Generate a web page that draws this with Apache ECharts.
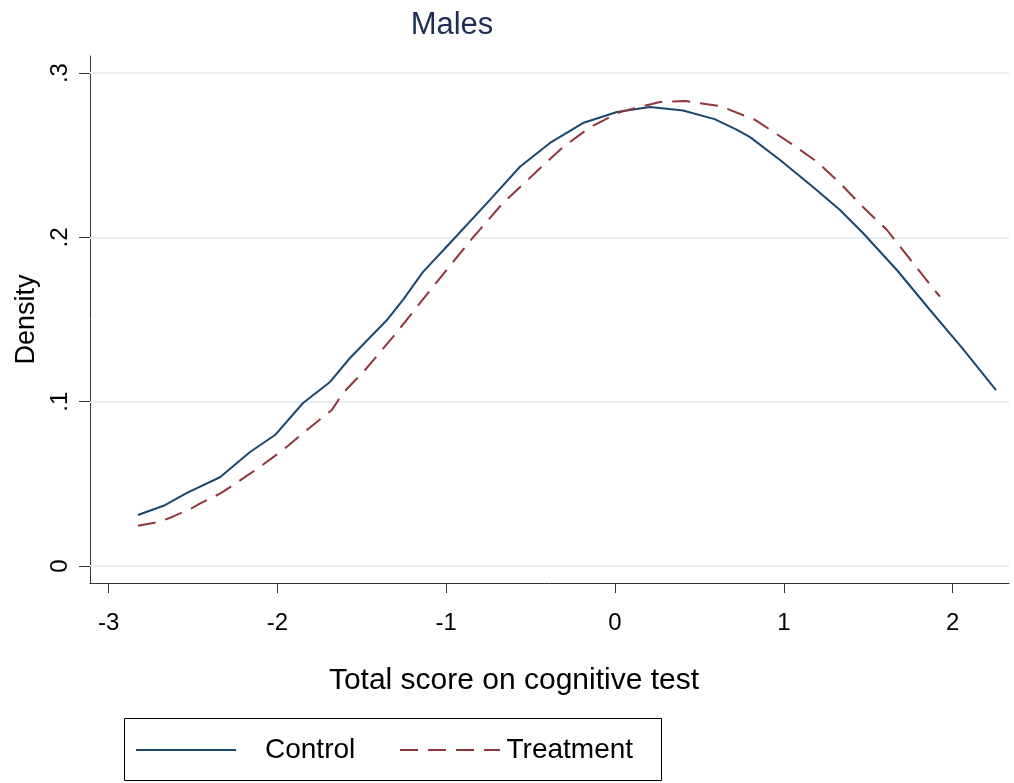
<!DOCTYPE html>
<html>
<head>
<meta charset="utf-8">
<script src="https://cdn.jsdelivr.net/npm/echarts@6/dist/echarts.min.js"></script>
<style>html,body{margin:0;padding:0;background:#fff}#c{width:1014px;height:783px}</style>
</head>
<body>
<div id="c"></div>
<script>
// ---- data ----
const controlX = [-2.826,-2.666,-2.536,-2.34,-2.162,-2.014,-1.848,-1.688,-1.570,-1.351,-1.256,-1.137,-0.977,-0.741,-0.563,-0.385,-0.19,0.012,0.207,0.403,0.59,0.723,0.80,0.978,1.173,1.333,1.469,1.671,1.866,2.056,2.257];
const controlY = [0.031,0.037,0.0445,0.054,0.0694,0.0797,0.0992,0.112,0.1266,0.1497,0.162,0.179,0.1966,0.2228,0.243,0.2575,0.2696,0.2763,0.2794,0.2772,0.272,0.2654,0.261,0.2471,0.2307,0.2167,0.2027,0.180,0.1558,0.1327,0.107];
const treatX = [-2.826,-2.70,-2.62,-2.51,-2.46,-2.34,-2.28,-2.18,-2.121,-1.967,-1.825,-1.677,-1.611,-1.481,-1.315,-1.197,-1.078,-0.960,-0.841,-0.663,-0.308,-0.148,0.03,0.13,0.267,0.415,0.622,0.83,1.037,1.197,1.333,1.469,1.611,1.730,1.908,1.925];
const treatY = [0.0245,0.0268,0.030,0.035,0.038,0.044,0.048,0.055,0.059,0.0706,0.0828,0.095,0.1053,0.1193,0.1394,0.1546,0.170,0.185,0.200,0.221,0.255,0.267,0.2763,0.279,0.2824,0.283,0.280,0.2715,0.2575,0.246,0.233,0.2185,0.2045,0.189,0.166,0.164];
const xTicks = [-3,-2,-1,0,1,2];
const yTicks = [0,0.1,0.2,0.3];
const seriesNames = ['Control','Treatment'];
const titleText = 'Males';
const xTitle = 'Total score on cognitive test';
const yTitle = 'Density';

const FONT = "'Liberation Sans', Arial, sans-serif";
const zip = (a,b) => a.map((v,i)=>[v,b[i]]);
const solidIcon = 'path://M0,0H100V2H0Z';
const dashIcon = 'path://M0,0H18V2H0Z M28,0H46V2H28Z M56,0H74V2H56Z M84,0H100V2H84Z';

const chart = echarts.init(document.getElementById('c'), null, {renderer:'canvas'});
chart.setOption({
  animation:false,
  backgroundColor:'#ffffff',
  title:[
    {text:titleText, left:447, top:5, textAlign:'center',
     textStyle:{fontFamily:FONT, fontSize:31, fontWeight:'normal', color:'#1e2d55'}},
    {text:xTitle, left:509, top:661, textAlign:'center',
     textStyle:{fontFamily:FONT, fontSize:30, fontWeight:'normal', color:'#000'}}
  ],
  grid:{left:90, right:5, top:56, bottom:200, containLabel:false},
  xAxis:{
    type:'value', min:-3.110, max:2.334,
    axisLine:{show:true, onZero:false, lineStyle:{color:'#333', width:1}},
    axisTick:{show:true, length:10, customValues:xTicks, lineStyle:{color:'#333', width:1}},
    axisLabel:{customValues:xTicks, margin:28, fontFamily:FONT, fontSize:24, color:'#000'},
    splitLine:{show:false}
  },
  yAxis:{
    type:'value', min:-0.01035, max:0.3104,
    name:yTitle, nameLocation:'middle', nameRotate:90, nameGap:50,
    nameTextStyle:{fontFamily:FONT, fontSize:27, color:'#000'},
    axisLine:{show:true, onZero:false, lineStyle:{color:'#333', width:1}},
    axisTick:{show:true, length:11, customValues:yTicks, lineStyle:{color:'#333', width:1}},
    axisLabel:{customValues:yTicks, rotate:90, margin:18, fontFamily:FONT, fontSize:24, color:'#000',
      formatter:v => v===0 ? '0' : String(+v.toFixed(3)).replace(/^0/,'')},
    splitLine:{show:false}
  },
  legend:[
    {data:[{name:seriesNames[0], icon:solidIcon}], left:136, top:736, padding:0, itemWidth:102, itemHeight:2,
     textStyle:{fontFamily:FONT, fontSize:28, color:'#000', padding:[0,0,0,23]}},
    {data:[{name:seriesNames[1], icon:dashIcon}], left:400, top:736, padding:0, itemWidth:101, itemHeight:2,
     textStyle:{fontFamily:FONT, fontSize:28, color:'#000', padding:[0,0,0,1]}}
  ],
  graphic:[
    {type:'rect', shape:{x:124.5, y:718.5, width:537, height:62}, style:{fill:'none', stroke:'#000', lineWidth:1}, silent:true}
  ],
  series:[
    {name:seriesNames[0], type:'line', data:zip(controlX,controlY), symbol:'none', smooth:false,
     lineStyle:{color:'#1a476f', width:2}, itemStyle:{color:'#1a476f'}, z:3,
     markLine:{silent:true, symbol:['none','none'], z:1, label:{show:false},
       lineStyle:{type:'solid', color:'#e6eef0', width:2},
       data:yTicks.map(v=>({yAxis:v}))}},
    {name:seriesNames[1], type:'line', data:zip(treatX,treatY), symbol:'none', smooth:false,
     lineStyle:{color:'#90353b', width:2, type:[18,10]}, itemStyle:{color:'#90353b'}, z:3}
  ]
});
</script>
</body>
</html>
